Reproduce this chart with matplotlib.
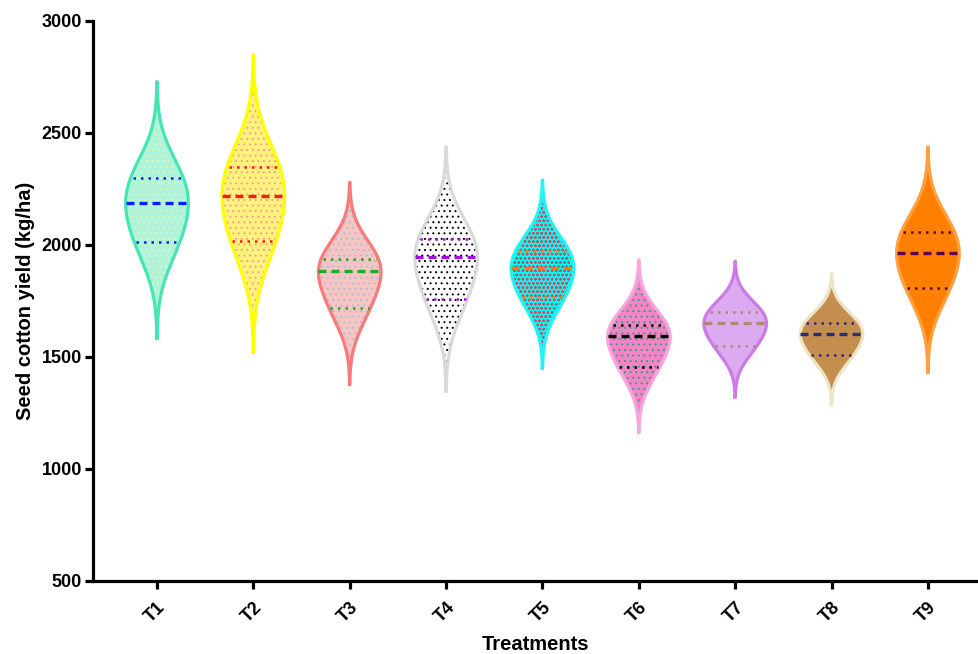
import numpy as np
import matplotlib
matplotlib.use("Agg")
import matplotlib.pyplot as plt

# Seed cotton yield (kg/ha), three replicates per treatment
treatments = ["T1", "T2", "T3", "T4", "T5", "T6", "T7", "T8", "T9"]
yield_t1 = [2012, 2186, 2297]
yield_t2 = [2018, 2217, 2348]
yield_t3 = [1719, 1884, 1937]
yield_t4 = [1758, 1946, 2025]
yield_t5 = [1765, 1895, 1973]
yield_t6 = [1453, 1592, 1640]
yield_t7 = [1549, 1650, 1698]
yield_t8 = [1506, 1603, 1650]
yield_t9 = [1808, 1962, 2058]
yields = [yield_t1, yield_t2, yield_t3, yield_t4, yield_t5,
          yield_t6, yield_t7, yield_t8, yield_t9]

y_ticks = [500, 1000, 1500, 2000, 2500, 3000]

# Styling per violin
fill_colors = ["#aef4dc", "#fff27e", "#f9c4c4", "#ffffff", "#00ffff",
               "#f484c4", "#dcaaf0", "#c48f4e", "#ff8000"]
edge_colors = ["#46e6b4", "#ffff00", "#f77b7b", "#d9d9d9", "#22f4f4",
               "#f6a6dc", "#cc7ae6", "#eee4c4", "#ffa040"]
hatch_colors = ["#e2f4b4", "#f8a088", "#a8c0cc", "#000000", "#b05a6a",
                "#2aa090", None, None, None]
hatches = ["...", "...", "...", "...", "oooo", "...", None, None, None]
line_colors = ["#0a1fff", "#ff1a1a", "#1faa1f", "#a010e0", "#ff7a00",
               "#000000", "#b08a70", "#2e2a80", "#5a0050"]

plt.rcParams["font.family"] = ["Liberation Sans", "DejaVu Sans"]
plt.rcParams["font.weight"] = "bold"
plt.rcParams["hatch.linewidth"] = 0.7

fig = plt.figure(figsize=(9.79, 6.54), dpi=100)
ax = fig.add_axes([93 / 979, 73.3 / 654, 886 / 979, 560 / 654])

HALF_WIDTH = 0.325


def kde_profile(values, n=500):
    v = np.asarray(values, float)
    bw = v.std(ddof=1)
    y = np.linspace(v.min() - 3 * bw, v.max() + 3 * bw, n)
    d = np.exp(-0.5 * ((y[:, None] - v[None, :]) / bw) ** 2).sum(axis=1)
    return y, d / d.max()


for i, vals in enumerate(yields):
    x = i + 1
    y, d = kde_profile(vals)
    half = HALF_WIDTH * d
    ax.fill_betweenx(y, x - half, x + half, facecolor=fill_colors[i],
                     edgecolor="none", linewidth=0, zorder=2)
    if hatches[i]:
        ax.fill_betweenx(y, x - half, x + half, facecolor="none",
                         edgecolor=hatch_colors[i], linewidth=0,
                         hatch=hatches[i], zorder=3)
    ax.plot(np.r_[x - half, (x + half)[::-1], x - half[0]],
            np.r_[y, y[::-1], y[0]], color=edge_colors[i], lw=2.3,
            solid_joinstyle="round", zorder=4)

    q1, med, q3 = np.sort(vals)
    w_med = HALF_WIDTH * np.interp(med, y, d)
    ax.plot([x - w_med, x + w_med], [med, med], color=line_colors[i],
            lw=2.4, linestyle=(0, (2.4, 1.5)), dash_capstyle="butt", zorder=5)
    for q in (q1, q3):
        w = HALF_WIDTH * np.interp(q, y, d) * 0.92
        ax.plot([x - w, x + w], [q, q], color=line_colors[i], lw=1.8,
                linestyle=(0, (1, 2.0)), zorder=5)

ax.set_xlim(0.336, 9.53)
ax.set_ylim(500, 3000)
ax.set_xticks(range(1, len(treatments) + 1))
ax.set_xticklabels(treatments, rotation=45, ha="right", va="top",
                   rotation_mode="anchor", fontsize=13, fontweight="bold")
ax.set_yticks(y_ticks)
ax.set_yticklabels([str(t) for t in y_ticks], fontsize=13, fontweight="bold")

for side in ("top", "right"):
    ax.spines[side].set_visible(False)
for side in ("left", "bottom"):
    ax.spines[side].set_linewidth(2.3)
ax.tick_params(axis="both", width=2.3, length=6, direction="out", pad=2)
ax.tick_params(axis="x", pad=7)

ax.set_ylabel("Seed cotton yield (kg/ha)", fontsize=14.5, fontweight="bold",
              labelpad=5)
ax.set_xlabel("Treatments", fontsize=14.5, fontweight="bold", labelpad=6.5)

fig.savefig("out.png", dpi=100)
